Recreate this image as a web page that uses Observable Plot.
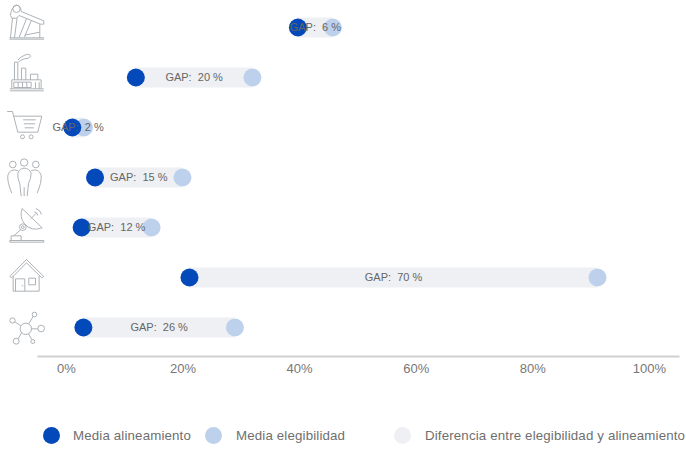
<!DOCTYPE html>
<html lang="es">
<head>
<meta charset="utf-8">
<script src="https://cdn.jsdelivr.net/npm/d3@7"></script>
<script src="https://cdn.jsdelivr.net/npm/@observablehq/plot@0.6"></script>
<style>
  html, body { margin: 0; padding: 0; background: #fff; overflow: hidden; }
  body { width: 686px; height: 450px; position: relative; font-family: "Liberation Sans", Arial, sans-serif; }
  #chart svg { display: block; }
  .clave { position: absolute; top: 426px; height: 19px; line-height: 19px; color: #6f6f6f; font-size: 13.3px; white-space: nowrap; letter-spacing: 0.15px; }
  .clave i { position: absolute; left: 0; top: 1px; width: 17px; height: 17px; border-radius: 50%; }
  .clave span { position: absolute; top: 0; }
</style>
</head>
<body>
<div id="chart"></div>
<div id="leyenda"></div>
<script>
// Sectores, de arriba abajo
const sectores = ["Petróleo", "Industria", "Comercio", "Personas", "Telecomunicaciones", "Vivienda", "Redes"];
const alineamiento = [39.7, 11.9, 1, 4.9, 2.6, 21.1, 2.9];
const elegibilidad = [45.7, 31.9, 3, 19.9, 14.6, 91.1, 28.9];
const brecha = [6, 20, 2, 15, 12, 70, 26];
const marcasEje = [0, 20, 40, 60, 80, 100];

const AZUL = "#0449b9";
const CELESTE = "#bdd1ec";
const GRIS = "#eef0f3";

// Pictogramas de trazo fino; cada uno se centra en la fila de su sector
const trazos = [
  ["-12 -12", `<circle cx="48" cy="22" r="11"/>
    <path d="M30 42Q32 18 48 11Q62 13 62 30L130 58V68H120L56 42L48 50H34Z"/>
    <path d="M36 50L30 109M50 48L42 109M78 52L56 107M92 58L72 107M72 101L118 92M118 68V109M27 109H131M27 113H131"/>`],
  ["-12 138", `<path d="M28 262H130M28 268H130M34 262V235H122V262M40 242H92V258H40ZM53 242V258M66 242V258M79 242V258M105 242V262M116 242V262"/>
    <path d="M42 235V182H52V235M63 235V200H76V235M90 235V218H112V235"/>
    <path d="M52 176Q60 165 75 160Q90 155 90 165Q85 172 72 172Q60 175 54 182"/>`],
  ["-12 291", `<path d="M20 333H36L52 395H112L124 347H40M68 358H106M70 370H104M73 382H100"/>
    <circle cx="66" cy="409" r="6"/><circle cx="92" cy="409" r="6"/>`],
  ["-12 441", `<circle cx="37" cy="492" r="10"/><circle cx="71" cy="486" r="11"/><circle cx="106" cy="492" r="10"/>
    <path d="M62 587L58 550Q50 530 52 518Q58 503 71 503Q86 503 92 518Q92 532 84 550L80 587M71 587V560"/>
    <path d="M52 510Q28 503 22 525Q20 545 34 578M92 510Q116 503 122 525Q124 545 110 578"/>`],
  ["-12 81", `<path d="M28 210H130V215H28ZM32 210V196H62V210M40 196L60 178"/>
    <circle cx="67" cy="170" r="10"/><circle cx="67" cy="170" r="4"/>
    <path d="M65 114Q56 140 72 160Q92 184 125 172ZM90 145L108 128M102 124Q110 125 112 135M106 114Q120 118 123 132"/>`],
  ["-12 231", `<path d="M28 318L78 267L130 318L124 322L78 277L34 322ZM38 316V362H116V316M45 362V325H73V362M85 323H105V343H85ZM64 346H68"/>`],
  ["-12 381", `<circle cx="76" cy="475" r="17"/><circle cx="102" cy="432" r="7"/><circle cx="36" cy="450" r="8"/>
    <circle cx="122" cy="474" r="10"/><circle cx="47" cy="512" r="9"/><circle cx="97" cy="513" r="6"/>
    <path d="M85 460L98 438M61 466L43 454M93 475H112M63 487L53 505M84 490L94 507"/>`]
];
const pictograma = ([origen, dibujo]) =>
  "data:image/svg+xml;utf8," + encodeURIComponent(
    `<svg xmlns="http://www.w3.org/2000/svg" viewBox="${origen} 180 180" fill="none" stroke="#a7acb2" stroke-width="2.8">${dibujo}</svg>`
  );

const filas = sectores.map((sector, i) => ({
  sector,
  alineamiento: alineamiento[i],
  elegibilidad: elegibilidad[i],
  etiqueta: `GAP:\u00a0\u00a0${brecha[i]}\u00a0%`,
  centro: (alineamiento[i] + elegibilidad[i]) / 2,
  icono: pictograma(trazos[i])
}));

const grafico = Plot.plot({
  width: 686,
  height: 400,
  marginLeft: 38,
  marginRight: 8,
  marginTop: 0,
  marginBottom: 44,
  style: { fontFamily: "'Liberation Sans', Arial, sans-serif", background: "#fff", overflow: "visible" },
  x: { domain: [-4.8, 105], label: null },
  y: { type: "point", domain: sectores, range: [26, 327], padding: 0, axis: null },
  marks: [
    Plot.frame({ anchor: "bottom", stroke: "#cfd0d2", strokeWidth: 2 }),
    Plot.axisX({
      ticks: marcasEje,
      tickFormat: d => `${d}%`,
      tickSize: 0,
      tickPadding: 7,
      fontSize: 13,
      color: "#777",
      label: null
    }),
    Plot.image(filas, {
      x: () => 0,
      y: "sector",
      src: "icono",
      width: 60,
      height: 60,
      dx: -40
    }),
    Plot.ruleY(filas, {
      y: "sector",
      x1: "alineamiento",
      x2: "elegibilidad",
      stroke: GRIS,
      strokeWidth: 20
    }),
    Plot.dot(filas, { x: "elegibilidad", y: "sector", r: 9, fill: CELESTE }),
    Plot.dot(filas, { x: "alineamiento", y: "sector", r: 9, fill: AZUL }),
    Plot.text(filas, {
      x: "centro",
      y: "sector",
      text: "etiqueta",
      fontSize: 11,
      fill: "#666"
    })
  ]
});
document.getElementById("chart").append(grafico);

// Leyenda bajo el gráfico
const entradas = [
  ["Media alineamiento", AZUL, 43, 30],
  ["Media elegibilidad", CELESTE, 205, 31],
  ["Diferencia entre elegibilidad y alineamiento", GRIS, 394, 31]
];
const leyenda = d3.select("#leyenda");
for (const [nombre, color, izquierda, sangria] of entradas) {
  const clave = leyenda.append("div").attr("class", "clave").style("left", `${izquierda}px`);
  clave.append("i").style("background", color);
  clave.append("span").style("left", `${sangria}px`).text(nombre);
}
</script>
</body>
</html>
